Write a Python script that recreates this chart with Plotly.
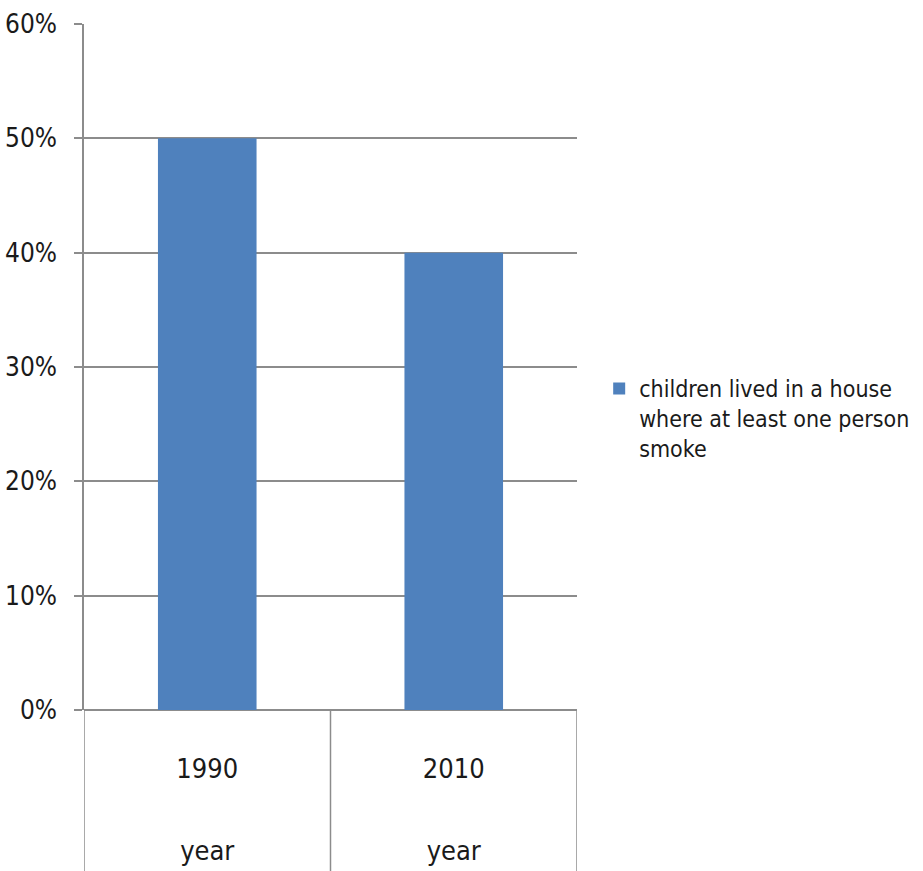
import plotly.graph_objects as go

categories = ["1990", "2010"]
outer_labels = ["year", "year"]
values = [0.50, 0.40]
series_name = "children lived in a house<br>where at least one person<br>smoke"
y_ticks = [0, 0.1, 0.2, 0.3, 0.4, 0.5, 0.6]

FONT = "DejaVu Sans Condensed, Liberation Sans Narrow, sans-serif"
GRID = "#8c8c8c"
TXT = "#1a1a1a"
LW = 1.5

fig = go.Figure()
fig.add_trace(go.Bar(
    x=categories, y=values, name=series_name,
    marker=dict(color="#4F81BD", line=dict(width=0)),
    width=0.4, showlegend=True,
))
# invisible companion trace to carry the outer category level ("year")
fig.add_trace(go.Bar(
    x=categories, y=[None, None], xaxis="x2", showlegend=False,
    hoverinfo="skip", marker=dict(color="rgba(0,0,0,0)"),
))

fig.update_layout(
    width=923, height=871,
    margin=dict(l=84, r=346, t=24, b=161, autoexpand=False),
    paper_bgcolor="white", plot_bgcolor="white",
    font=dict(family=FONT, size=26, color=TXT),
    showlegend=True,
    legend=dict(x=1.045, y=0.5, xanchor="left", yanchor="top", valign="top",
                font=dict(family=FONT, size=23, color=TXT),
                bgcolor="rgba(0,0,0,0)"),
    xaxis=dict(type="category", range=[-0.5, 1.5], tickvals=categories, ticktext=categories,
               showgrid=False, showline=False, ticks="", zeroline=False, automargin=False,
               ticklabelstandoff=40, tickfont=dict(size=27)),
    xaxis2=dict(type="category", range=[-0.5, 1.5], overlaying="x", anchor="y", side="bottom",
                tickvals=categories, ticktext=outer_labels,
                showgrid=False, showline=False, ticks="", zeroline=False, automargin=False,
                ticklabelstandoff=122, tickfont=dict(size=27)),
    yaxis=dict(range=[0, 0.6], tickvals=y_ticks, tickformat=".0%", automargin=False,
               showgrid=True, gridcolor=GRID, gridwidth=LW,
               showline=True, linecolor=GRID, linewidth=LW,
               ticks="outside", ticklen=8, tickcolor=GRID, tickwidth=LW,
               zeroline=True, zerolinecolor=GRID, zerolinewidth=LW,
               ticklabelstandoff=12, tickfont=dict(size=26)),
    bargap=0.6,
)

# category divider lines below the axis (Excel-style)
for xb in [-0.5, 0.5, 1.5]:
    fig.add_shape(type="line", xref="x", yref="paper", x0=xb, x1=xb, y0=0, y1=-161/686,
                  line=dict(color=GRID, width=LW), layer="above")

fig.write_html("out.html")
